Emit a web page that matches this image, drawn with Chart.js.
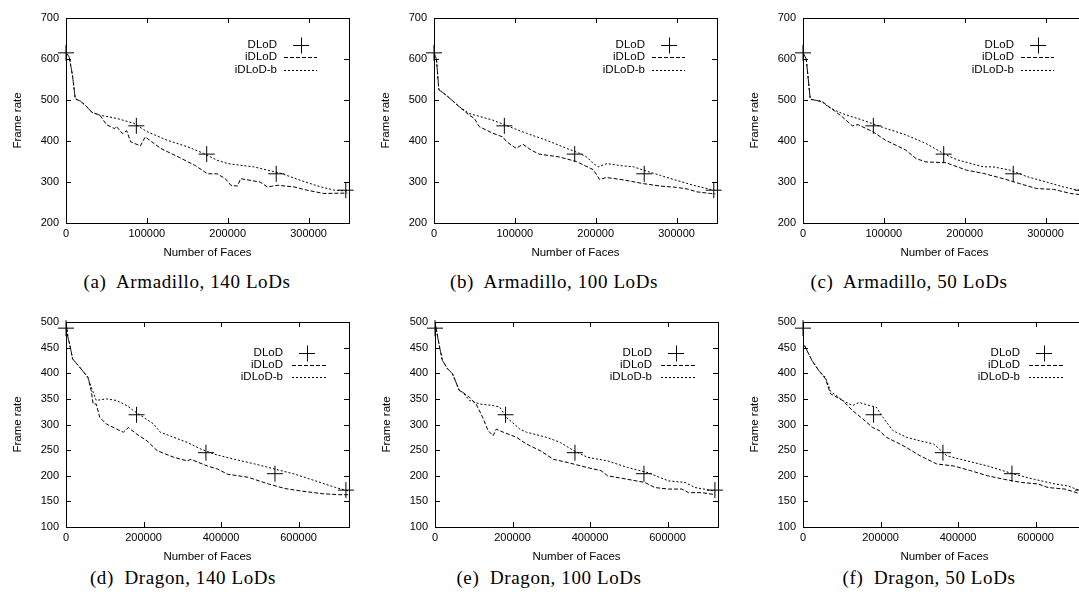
<!DOCTYPE html>
<html>
<head>
<meta charset="utf-8">
<script src="https://cdn.jsdelivr.net/npm/chart.js@4/dist/chart.umd.min.js"></script>
<style>
    body { margin: 0; width: 1079px; height: 595px; overflow: hidden; background: #fff; position: relative; }
    canvas { position: absolute; }
    .caption {
        position: absolute;
        font-family: "Liberation Serif", "Times New Roman", serif;
        font-size: 19px;
        line-height: 22px;
        letter-spacing: 0.6px;
        white-space: pre;
        color: #000;
        transform: translateX(-50%);
    }
</style>
</head>
<body>
<canvas id="chartA" width="360" height="262" style="left:0px;top:0px"></canvas>
<canvas id="chartB" width="360" height="262" style="left:368px;top:0px"></canvas>
<canvas id="chartC" width="360" height="262" style="left:737px;top:0px"></canvas>
<canvas id="chartD" width="360" height="262" style="left:0px;top:304px"></canvas>
<canvas id="chartE" width="360" height="262" style="left:369px;top:304px"></canvas>
<canvas id="chartF" width="360" height="262" style="left:737px;top:304px"></canvas>

<script>
// ---- Datos: [numero de caras, frame rate] ----

// DLoD (marcadores)
const dlodArmadillo = [[0, 615], [87000, 437], [174000, 368], [260000, 320], [346000, 280]];
const dlodDragon = [[0, 488], [182000, 319], [361000, 245], [539000, 204], [722000, 172]];

// Armadillo, 140 LoDs
const idlodArm140 = [[0, 615], [4000, 605], [8000, 560], [11500, 503], [18000, 497], [25000, 485], [32000, 470], [42000, 463],
    [50000, 440], [60000, 430], [62000, 436], [70000, 418], [75000, 425], [80000, 398], [92000, 388], [98000, 410],
    [117000, 382], [140000, 360], [160000, 340], [175000, 320], [187000, 320], [197000, 308], [204000, 292], [212000, 290],
    [216000, 308], [240000, 300], [249000, 288], [262000, 292], [282000, 288], [298000, 280], [319000, 272], [348000, 273]];
const idlodbArm140 = [[0, 615], [4000, 605], [8000, 560], [11500, 503], [18000, 497], [25000, 485], [32000, 470], [42000, 463],
    [63000, 455], [84000, 443], [100000, 423], [125000, 402], [150000, 386], [170000, 370], [187000, 353], [200000, 345],
    [215000, 341], [232000, 337], [249000, 329], [266000, 321], [290000, 304], [315000, 288], [332000, 280], [348000, 278]];

// Armadillo, 100 LoDs
const idlodArm100 = [[0, 615], [3000, 600], [6000, 525], [15000, 512], [31000, 484], [43500, 463], [50000, 455], [56000, 435],
    [72600, 419], [85000, 410], [90000, 398], [101600, 382], [110000, 392], [120000, 378], [130000, 368], [155000, 361],
    [176000, 350], [197000, 330], [205000, 306], [213000, 311], [235000, 305], [259000, 296], [280000, 290], [300000, 287],
    [313000, 283], [325000, 276], [342000, 272], [348000, 271]];
const idlodbArm100 = [[0, 615], [3000, 600], [6000, 525], [15000, 512], [31000, 484], [43500, 467], [72600, 451], [93000, 435],
    [114000, 419], [139000, 402], [164000, 382], [180000, 370], [189000, 361], [197000, 345], [203000, 337], [214000, 345],
    [230000, 340], [247000, 337], [259000, 329], [280000, 316], [300000, 304], [321000, 292], [346000, 280]];

// Armadillo, 50 LoDs
const idlodArm50 = [[0, 615], [4000, 600], [9000, 502], [23700, 496], [32000, 484], [48500, 459], [61000, 437], [68000, 440],
    [86000, 423], [102000, 402], [127000, 378], [140000, 357], [152000, 349], [177000, 347], [202000, 329], [223000, 321],
    [248000, 308], [268000, 296], [289000, 284], [310000, 282], [331000, 272], [348000, 268]];
const idlodbArm50 = [[0, 615], [4000, 600], [9000, 502], [23700, 496], [32000, 482], [48500, 467], [75000, 450], [102000, 431],
    [127000, 415], [152000, 394], [177000, 366], [191000, 354], [223000, 337], [235000, 337], [256000, 329], [277000, 313],
    [301000, 300], [322000, 288], [340000, 280], [348000, 278]];

// Dragon, 140 LoDs
const idlodDrg140 = [[0, 500], [5000, 470], [10000, 455], [17000, 428], [35000, 412], [56500, 392], [65000, 366], [70000, 340],
    [78000, 340], [87000, 314], [104000, 301], [139000, 288], [148000, 285], [161000, 294], [183000, 281], [209000, 268],
    [235000, 249], [278000, 236], [313000, 229], [322000, 232], [365000, 219], [391000, 213], [417000, 203], [470000, 197],
    [522000, 184], [565000, 175], [609000, 170], [661000, 165], [704000, 163], [730000, 163]];
const idlodbDrg140 = [[0, 500], [5000, 470], [10000, 455], [17000, 428], [35000, 412], [56500, 392], [65000, 373], [78000, 347],
    [104000, 350], [130000, 347], [157000, 337], [174000, 327], [200000, 314], [226000, 301], [243000, 285], [278000, 275],
    [313000, 265], [348000, 252], [383000, 242], [435000, 232], [487000, 223], [539000, 213], [591000, 203], [643000, 190],
    [696000, 177], [730000, 170]];

// Dragon, 100 LoDs
const idlodDrg100 = [[0, 500], [10000, 458], [19000, 425], [32000, 409], [45000, 399], [63000, 366], [71000, 363], [89000, 353],
    [106000, 340], [123000, 314], [137000, 288], [150000, 278], [158000, 291], [176000, 285], [210000, 275], [236000, 262],
    [271000, 249], [306000, 232], [341000, 226], [393000, 216], [428000, 210], [445000, 200], [497000, 193], [541000, 187],
    [567000, 177], [602000, 174], [637000, 174], [654000, 167], [689000, 167], [723000, 163]];
const idlodbDrg100 = [[0, 500], [10000, 458], [19000, 425], [32000, 409], [45000, 399], [63000, 366], [71000, 363], [89000, 347],
    [115000, 340], [150000, 337], [167000, 334], [184000, 314], [219000, 291], [236000, 285], [288000, 275], [323000, 265],
    [358000, 249], [393000, 236], [445000, 229], [497000, 216], [550000, 206], [602000, 190], [645000, 187], [671000, 177],
    [723000, 170]];

// Dragon, 50 LoDs
const idlodDrg50 = [[4000, 454], [23000, 425], [41000, 405], [58000, 389], [71000, 360], [102000, 347], [128000, 327],
    [154000, 311], [180000, 294], [197000, 288], [215000, 275], [250000, 262], [267000, 255], [302000, 239], [345000, 223],
    [389000, 219], [432000, 210], [476000, 200], [519000, 193], [563000, 187], [606000, 184], [632000, 177], [676000, 174],
    [718000, 164]];
const idlodbDrg50 = [[4000, 454], [23000, 425], [41000, 405], [58000, 392], [71000, 365], [102000, 347], [128000, 337],
    [145000, 343], [171000, 337], [189000, 334], [206000, 314], [232000, 288], [267000, 275], [302000, 268], [337000, 262],
    [371000, 239], [423000, 229], [476000, 219], [545000, 203], [597000, 193], [650000, 184], [684000, 180], [718000, 170]];

// Textos
const seriesNames = ['DLoD', 'iDLoD', 'iDLoD-b'];
const xTitle = 'Number of Faces';
const yTitle = 'Frame rate';
const captions = ['(a)  Armadillo, 140 LoDs', '(b)  Armadillo, 100 LoDs', '(c)  Armadillo, 50 LoDs',
    '(d)  Dragon, 140 LoDs', '(e)  Dragon, 100 LoDs', '(f)  Dragon, 50 LoDs'];

// Ejes: rango y marcas
const armadilloXRange = [0, 350000];
const armadilloXTicks = [0, 100000, 200000, 300000];
const armadilloYRange = [200, 700];
const armadilloYTicks = [200, 300, 400, 500, 600, 700];
const dragonXRange = [0, 730000];
const dragonXTicks = [0, 200000, 400000, 600000];
const dragonYRange = [100, 500];
const dragonYTicks = [100, 150, 200, 250, 300, 350, 400, 450, 500];

const SANS = '"Liberation Sans", Arial, Helvetica, sans-serif';
const toXY = arr => arr.map(p => ({ x: p[0], y: p[1] }));

// Marco de gnuplot con ticks hacia adentro
const framePlugin = {
    id: 'frame',
    afterDraw(chart) {
        const { ctx, chartArea: a, scales } = chart;
        ctx.save();
        ctx.strokeStyle = '#000';
        ctx.lineWidth = 1;
        ctx.setLineDash([]);
        ctx.strokeRect(Math.round(a.left) + 0.5, Math.round(a.top) + 0.5,
            Math.round(a.right - a.left), Math.round(a.bottom - a.top));
        ctx.beginPath();
        scales.x.ticks.forEach(t => {
            const px = Math.round(scales.x.getPixelForValue(t.value)) + 0.5;
            ctx.moveTo(px, a.bottom); ctx.lineTo(px, a.bottom - 5);
            ctx.moveTo(px, a.top); ctx.lineTo(px, a.top + 5);
        });
        scales.y.ticks.forEach(t => {
            const py = Math.round(scales.y.getPixelForValue(t.value)) + 0.5;
            ctx.moveTo(a.left, py); ctx.lineTo(a.left + 5, py);
            ctx.moveTo(a.right, py); ctx.lineTo(a.right - 5, py);
        });
        ctx.stroke();
        ctx.restore();
    }
};

// Leyenda estilo gnuplot (texto a la izquierda, muestra a la derecha)
const keyPlugin = {
    id: 'gnuKey',
    afterDraw(chart, args, opts) {
        const { ctx, chartArea: a } = chart;
        ctx.save();
        ctx.font = '11.5px ' + SANS;
        ctx.fillStyle = '#000';
        ctx.strokeStyle = '#000';
        ctx.lineWidth = 1;
        ctx.textAlign = 'right';
        ctx.textBaseline = 'middle';
        const x0 = a.left + opts.textEnd;
        seriesNames.forEach((name, i) => {
            const y = a.top + opts.rows[i];
            ctx.fillText(name, x0, y);
            const yy = Math.round(y) + 0.5;
            ctx.beginPath();
            if (i === 0) {
                ctx.setLineDash([]);
                const cx = a.left + opts.mark;
                ctx.moveTo(cx - 8, yy); ctx.lineTo(cx + 8, yy);
                ctx.moveTo(cx + 0.5, yy - 8); ctx.lineTo(cx + 0.5, yy + 8);
            } else {
                ctx.setLineDash(i === 1 ? [4, 2] : [2, 2]);
                ctx.moveTo(a.left + opts.line[0], yy);
                ctx.lineTo(a.left + opts.line[1], yy);
            }
            ctx.stroke();
        });
        ctx.restore();
    }
};

const keyTop = { textEnd: 211, mark: 235, line: [218, 251], rows: [26.5, 39, 51.5] };
const keyBottom = { textEnd: 217, mark: 241, line: [226, 260], rows: [30.5, 42.5, 55] };

function renderPanel(canvasId, dlod, idlod, idlodb, xRange, xTicks, yRange, yTicks, key) {
    const ctx = document.getElementById(canvasId).getContext('2d');
    new Chart(ctx, {
        type: 'line',
        data: {
            datasets: [
                {
                    label: seriesNames[1],
                    data: toXY(idlod),
                    borderColor: '#000',
                    borderWidth: 1,
                    borderDash: [4, 2],
                    pointRadius: 0,
                    tension: 0,
                    fill: false
                },
                {
                    label: seriesNames[2],
                    data: toXY(idlodb),
                    borderColor: '#000',
                    borderWidth: 1,
                    borderDash: [2, 2],
                    pointRadius: 0,
                    tension: 0,
                    fill: false
                },
                {
                    label: seriesNames[0],
                    data: toXY(dlod),
                    showLine: false,
                    pointStyle: 'cross',
                    pointRadius: 8,
                    pointBorderWidth: 1,
                    pointBorderColor: '#000',
                    clip: false
                }
            ]
        },
        options: {
            responsive: false,
            animation: false,
            events: [],
            layout: { padding: { top: 18, right: 11, left: 0, bottom: 0 } },
            plugins: {
                legend: { display: false },
                tooltip: { enabled: false },
                gnuKey: key
            },
            scales: {
                x: {
                    type: 'linear',
                    min: xRange[0],
                    max: xRange[1],
                    grid: { display: false, drawTicks: false },
                    border: { display: false },
                    afterBuildTicks: s => { s.ticks = xTicks.map(v => ({ value: v })); },
                    ticks: {
                        autoSkip: false,
                        maxRotation: 0,
                        padding: 4,
                        color: '#000',
                        font: { family: SANS, size: 11 },
                        callback: v => String(v)
                    },
                    title: {
                        display: true,
                        text: xTitle,
                        color: '#000',
                        font: { family: SANS, size: 11.5 },
                        padding: { top: 0, bottom: 2 }
                    },
                    afterFit: s => { s.height = 39; }
                },
                y: {
                    min: yRange[0],
                    max: yRange[1],
                    grid: { display: false, drawTicks: false },
                    border: { display: false },
                    afterBuildTicks: s => { s.ticks = yTicks.map(v => ({ value: v })); },
                    ticks: {
                        autoSkip: false,
                        padding: 7,
                        color: '#000',
                        font: { family: SANS, size: 11 },
                        callback: v => String(v)
                    },
                    title: {
                        display: true,
                        text: yTitle,
                        color: '#000',
                        font: { family: SANS, size: 11.5 },
                        padding: { top: 11, bottom: 0 }
                    },
                    afterFit: s => { s.width = 66; }
                }
            }
        },
        plugins: [framePlugin, keyPlugin]
    });
}

renderPanel('chartA', dlodArmadillo, idlodArm140, idlodbArm140, armadilloXRange, armadilloXTicks, armadilloYRange, armadilloYTicks, keyTop);
renderPanel('chartB', dlodArmadillo, idlodArm100, idlodbArm100, armadilloXRange, armadilloXTicks, armadilloYRange, armadilloYTicks, keyTop);
renderPanel('chartC', dlodArmadillo, idlodArm50, idlodbArm50, armadilloXRange, armadilloXTicks, armadilloYRange, armadilloYTicks, keyTop);
renderPanel('chartD', dlodDragon, idlodDrg140, idlodbDrg140, dragonXRange, dragonXTicks, dragonYRange, dragonYTicks, keyBottom);
renderPanel('chartE', dlodDragon, idlodDrg100, idlodbDrg100, dragonXRange, dragonXTicks, dragonYRange, dragonYTicks, keyBottom);
renderPanel('chartF', dlodDragon, idlodDrg50, idlodbDrg50, dragonXRange, dragonXTicks, dragonYRange, dragonYTicks, keyBottom);

// Subtitulos
const captionPos = [[187, 271], [554, 271], [909, 271], [183, 567], [549, 567], [929, 567]];
captions.forEach((text, i) => {
    const div = document.createElement('div');
    div.className = 'caption';
    div.textContent = text;
    div.style.left = captionPos[i][0] + 'px';
    div.style.top = captionPos[i][1] + 'px';
    document.body.appendChild(div);
});
</script>
</body>
</html>
